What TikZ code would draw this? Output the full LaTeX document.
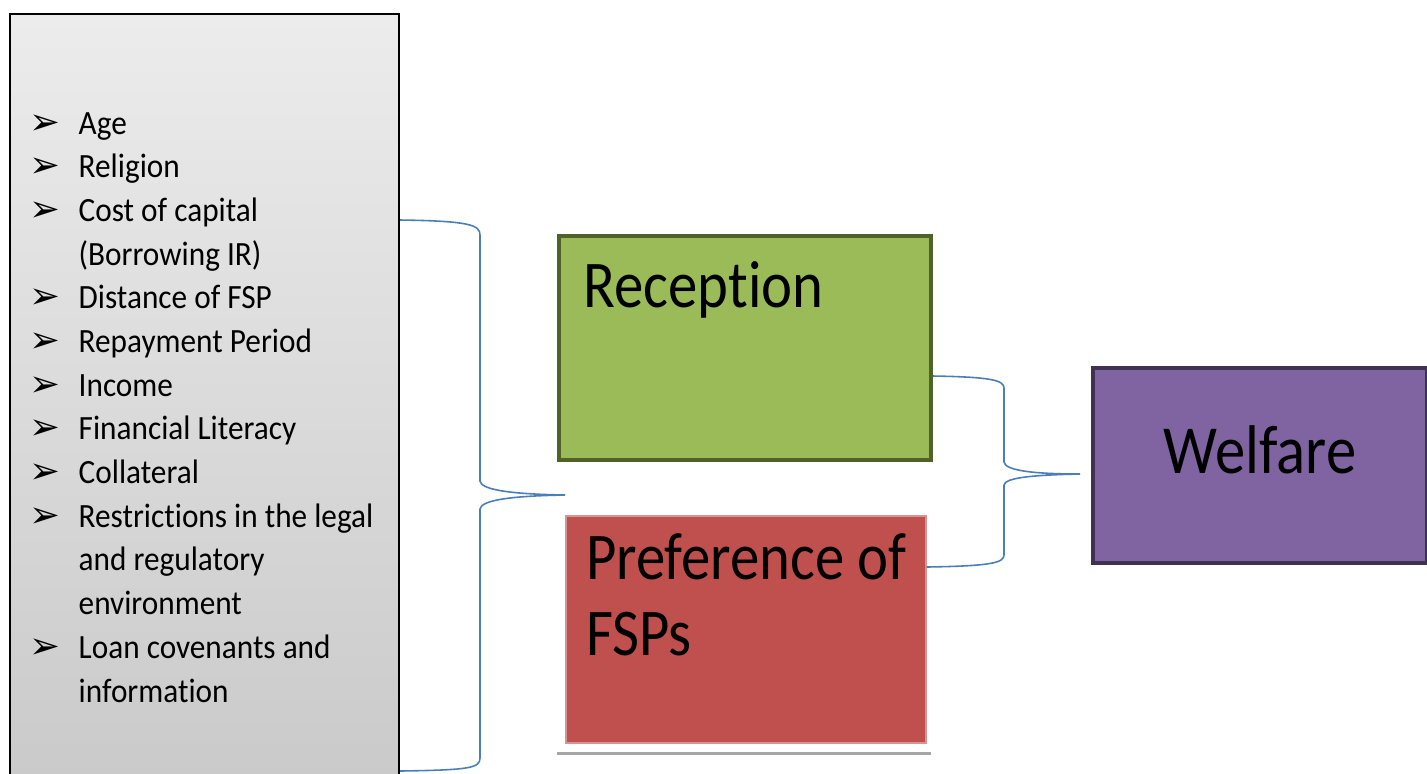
\documentclass[tikz,border=0pt]{standalone}
\usepackage{fontspec}
\setmainfont{Carlito}[FakeStretch=0.88, Ligatures=NoCommon]
\newfontfamily\listf{Carlito}[FakeStretch=0.92, Ligatures=NoCommon]
\newfontfamily\symf{DejaVu Sans}
\usepackage{tikz}
\usetikzlibrary{calc,positioning}
\definecolor{factTop}{HTML}{ECECEC}
\definecolor{factBot}{HTML}{C9C9C9}
\definecolor{recCol}{HTML}{9BBB59}
\definecolor{recEdge}{HTML}{4F6228}
\definecolor{prefCol}{HTML}{C0504D}
\definecolor{prefEdge}{HTML}{D69593}
\definecolor{welCol}{HTML}{8064A2}
\definecolor{welEdge}{HTML}{3F3151}
\definecolor{braceCol}{HTML}{4A7EBB}
\definecolor{ruleCol}{HTML}{A6A6A6}
\newcommand{\bul}{\makebox[0.45cm][l]{\hspace*{-0.04cm}\symf\fontsize{10.5}{10.5}\selectfont ➢}}
\newcommand{\ind}{\hspace*{0.45cm}}
\tikzset{
  box/.style n args={3}{draw=#2, fill=#1, line width=#3, rectangle, inner sep=0pt},
  bigtxt/.style={font=\fontsize{19}{21.6}\selectfont, align=left, inner sep=0pt},
  listtxt/.style={font=\listf\fontsize{9.67}{12.43}\selectfont, align=left, inner sep=0pt},
  brace/.style={draw=braceCol, line width=0.45pt},
}
\begin{document}
\begin{tikzpicture}
  \useasboundingbox (0,0) rectangle (14.27,-7.73);
  \clip (0,0) rectangle (14.27,-7.73);
  % factors column
  \node[draw=black, line width=0.6pt, top color=factTop, bottom color=factBot, rectangle,
        inner sep=0pt, minimum width=3.89cm, minimum height=7.86cm] (factors) at (2.045,-4.07) {};
  \node[listtxt, anchor=base west] (facts) at (0.33,-7.02)
    {\bul Age\\
     \bul Religion\\
     \bul Cost of capital\\
     \ind (Borrowing IR)\\
     \bul Distance of FSP\\
     \bul Repayment Period\\
     \bul Income\\
     \bul Financial Literacy\\
     \bul Collateral\\
     \bul Restrictions in the legal\\
     \ind and regulatory\\
     \ind environment\\
     \bul Loan covenants and\\
     \ind information};
  % middle boxes
  \node[box={recCol}{recEdge}{1.2pt}, minimum width=3.72cm, minimum height=2.24cm] (reception) at (7.45,-3.48) {};
  \node[bigtxt, anchor=base west] (rectxt) at ($(reception.north west)+(0.26,-0.74)$) {Reception};
  \node[box={prefCol}{prefEdge}{0.4pt}, minimum width=3.60cm, minimum height=2.27cm] (preference) at (7.46,-6.295) {};
  \node[bigtxt, anchor=base west] (preftxt) at ($(preference.north west)+(0.20,-1.40)$) {Preference of\\FSPs};
  \draw[ruleCol, line width=0.9pt] ($(preference.south west)+(-0.08,-0.10)$) -- ++(3.74,0);
  % outcome
  \node[box={welCol}{welEdge}{1.2pt}, minimum width=3.34cm, minimum height=1.95cm] (welfare) at (12.60,-4.655) {};
  \node[bigtxt, anchor=base, font=\fontsize{19.6}{21.6}\selectfont] (weltxt) at ($(welfare.center)+(0,-0.075)$) {Welfare};
  % braces
  \coordinate (ltip) at (5.65,-4.95);
  \coordinate (rtip) at (10.80,-4.74);
  \draw[brace] (factors.east |- 0,-2.20) .. controls (4.70,-2.21) and (4.80,-2.25) .. (4.80,-2.35)
    -- (4.80,-4.81) .. controls (4.81,-4.89) and (5.05,-4.94) .. (ltip)
    .. controls (5.05,-4.96) and (4.81,-5.01) .. (4.80,-5.09)
    -- (4.80,-7.58) .. controls (4.80,-7.68) and (4.70,-7.70) .. (factors.east |- 0,-7.71);
  \draw[brace] (reception.east |- 0,-3.76) .. controls (9.90,-3.77) and (10.04,-3.80) .. (10.04,-3.88)
    -- (10.04,-4.62) .. controls (10.05,-4.70) and (10.30,-4.74) .. (rtip)
    .. controls (10.30,-4.75) and (10.05,-4.78) .. (10.04,-4.85)
    -- (10.04,-5.55) .. controls (10.04,-5.63) and (9.90,-5.66) .. (preference.east |- 0,-5.67);
\end{tikzpicture}
\end{document}
